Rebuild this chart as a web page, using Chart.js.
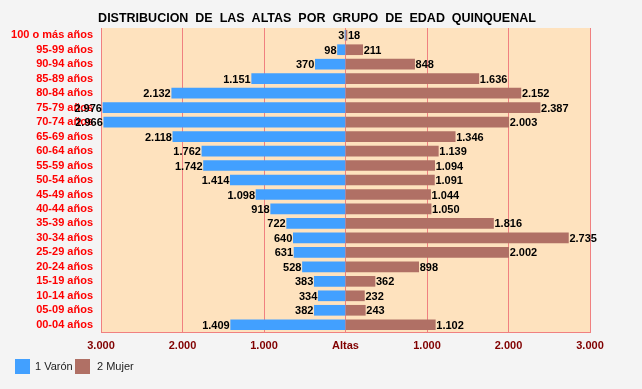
<!DOCTYPE html>
<html>
<head>
<meta charset="utf-8">
<script src="https://cdn.jsdelivr.net/npm/chart.js@4/dist/chart.umd.min.js"></script>
<style>
    html, body { margin: 0; padding: 0; background: #f4f4f4; }
    #wrap { width: 642px; height: 389px; }
</style>
</head>
<body>
<div id="wrap"><canvas id="pyramid"></canvas></div>
<script>
// Age groups, top to bottom
const grupos = [
    '100 o más años', '95-99 años', '90-94 años', '85-89 años', '80-84 años',
    '75-79 años', '70-74 años', '65-69 años', '60-64 años', '55-59 años',
    '50-54 años', '45-49 años', '40-44 años', '35-39 años', '30-34 años',
    '25-29 años', '20-24 años', '15-19 años', '10-14 años', '05-09 años', '00-04 años'
];
const varon = [3, 98, 370, 1151, 2132, 2976, 2966, 2118, 1762, 1742, 1414, 1098, 918, 722, 640, 631, 528, 383, 334, 382, 1409];
const mujer = [18, 211, 848, 1636, 2152, 2387, 2003, 1346, 1139, 1094, 1091, 1044, 1050, 1816, 2735, 2002, 898, 362, 232, 243, 1102];
const seriesNames = ['1 Varón', '2 Mujer'];
const xTicks = [-3000, -2000, -1000, 0, 1000, 2000, 3000];
const titulo = 'DISTRIBUCION  DE  LAS  ALTAS  POR  GRUPO  DE  EDAD  QUINQUENAL';

// 2976 -> "2.976"
function fmt(v) {
    return String(Math.abs(v)).replace(/\B(?=(\d{3})+(?!\d))/g, '.');
}

const peach = '#fee2be';
const gridColor = '#f08080';
const font = '"Liberation Sans", Arial, sans-serif';

// paint the plot area, write the title, value labels and the legend
const extras = {
    id: 'extras',
    beforeDraw(chart) {
        const { ctx, chartArea: a } = chart;
        ctx.save();
        ctx.fillStyle = peach;
        ctx.fillRect(a.left, a.top, a.right - a.left, a.bottom - a.top);
        ctx.restore();
    },
    afterDatasetsDraw(chart) {
        const ctx = chart.ctx;
        ctx.save();
        ctx.font = 'bold 11px ' + font;
        ctx.fillStyle = '#000';
        ctx.textBaseline = 'middle';
        chart.data.datasets.forEach((ds, di) => {
            chart.getDatasetMeta(di).data.forEach((bar, i) => {
                const v = ds.data[i];
                if (v < 0) {
                    ctx.textAlign = 'right';
                    ctx.fillText(fmt(v), bar.x - 1, bar.y + 1);
                } else {
                    ctx.textAlign = 'left';
                    ctx.fillText(fmt(v), bar.x + 1, bar.y + 1);
                }
            });
        });
        ctx.restore();
    },
    afterDraw(chart) {
        const ctx = chart.ctx;
        ctx.save();
        // title
        ctx.font = 'bold 12.5px ' + font;
        ctx.fillStyle = '#000';
        ctx.textAlign = 'center';
        ctx.textBaseline = 'middle';
        ctx.fillText(titulo, 317, 19);
        // legend
        ctx.font = '11px ' + font;
        ctx.textAlign = 'left';
        const boxX = [15, 75];
        const textX = [35, 97];
        chart.data.datasets.forEach((ds, i) => {
            ctx.fillStyle = ds.backgroundColor;
            ctx.fillRect(boxX[i], 359, 15, 15);
            ctx.fillStyle = '#222';
            ctx.fillText(ds.label, textX[i], 367);
        });
        ctx.restore();
    }
};

const ctx = document.getElementById('pyramid').getContext('2d');
new Chart(ctx, {
    type: 'bar',
    data: {
        labels: grupos,
        datasets: [
            {
                label: seriesNames[0],
                data: varon.map(v => -v),
                backgroundColor: '#42a0ff',
                barThickness: 10
            },
            {
                label: seriesNames[1],
                data: mujer,
                backgroundColor: '#b07065',
                barThickness: 10
            }
        ]
    },
    options: {
        indexAxis: 'y',
        responsive: true,
        maintainAspectRatio: false,
        animation: false,
        layout: {
            padding: { left: 5, right: 52, top: 28, bottom: 31 }
        },
        scales: {
            x: {
                stacked: true,
                min: -3000,
                max: 3000,
                afterBuildTicks: scale => {
                    scale.ticks = xTicks.map(v => ({ value: v }));
                },
                afterFit: scale => { scale.height = 26; },
                grid: { color: gridColor, drawTicks: false },
                border: { color: gridColor },
                ticks: {
                    padding: 7,
                    color: '#800000',
                    font: { family: font, size: 11, weight: 'bold' },
                    callback: v => v === 0 ? 'Altas' : fmt(v)
                }
            },
            y: {
                stacked: true,
                afterFit: scale => { scale.width = 96; },
                grid: { display: false, drawTicks: false },
                border: { color: gridColor },
                ticks: {
                    autoSkip: false,
                    padding: 8,
                    color: '#ff0000',
                    font: { family: font, size: 11, weight: 'bold' }
                }
            }
        },
        plugins: {
            title: { display: false },
            legend: { display: false },
            tooltip: { enabled: false }
        }
    },
    plugins: [extras]
});
</script>
</body>
</html>
